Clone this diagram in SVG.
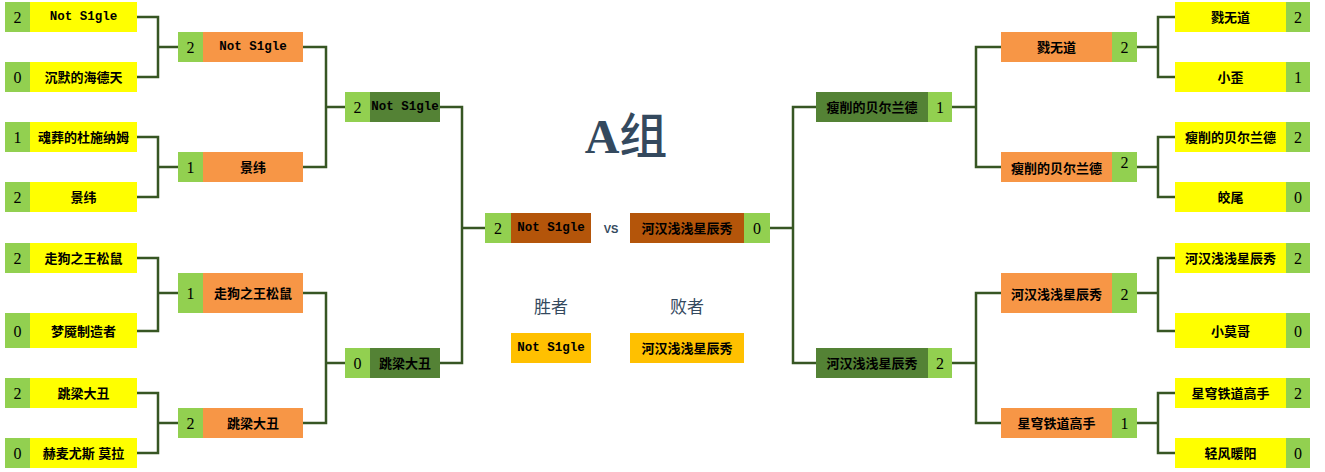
<svg xmlns="http://www.w3.org/2000/svg" width="1325" height="472" viewBox="0 0 1325 472">
<style>
.sc{fill:#92D050}
.y{fill:#FFFF00}
.o{fill:#F79646}
.g{fill:#548235}
.b{fill:#B4550A}
.w{fill:#FFC000}
.n{font-family:"Liberation Sans","Noto Sans CJK SC",sans-serif;font-weight:bold;font-size:13px;text-anchor:middle;dominant-baseline:central;fill:#000}
.m{font-family:"Liberation Mono","Courier New",monospace;font-weight:bold;font-size:12.5px;text-anchor:middle;dominant-baseline:central;fill:#000}
.s{font-family:"Liberation Serif",serif;font-size:16px;text-anchor:middle;dominant-baseline:central;fill:#000}
.t{font-family:"Noto Sans CJK SC",sans-serif;font-size:17px;text-anchor:middle;dominant-baseline:central;fill:#34495E}
#connectors path{fill:none;stroke:#375623;stroke-width:2.5}
</style>
<rect width="1325" height="472" fill="#fff"/>
<g id="connectors">
<path d="M137 17H158V77H137M158 47H178"/>
<path d="M137 137H158V197H137M158 167H178"/>
<path d="M137 258H158V331H137M158 293H178"/>
<path d="M137 393H158V453H137M158 423H178"/>
<path d="M303 47H326V167H303M326 107H345"/>
<path d="M303 293H326V423H303M326 363H345"/>
<path d="M440 107H462V363H440M462 228H485"/>
<path d="M770 228H793M816 107H793V363H816"/>
<path d="M952 107H976M1001 47H976V167H1001"/>
<path d="M952 363H976M1001 293H976V423H1001"/>
<path d="M1137 47H1158M1175 17H1158V77H1175"/>
<path d="M1137 167H1158M1175 137H1158V197H1175"/>
<path d="M1137 293H1158M1175 258H1158V331H1175"/>
<path d="M1137 423H1158M1175 393H1158V453H1175"/>
</g>
<g id="title"><text x="626" y="153" font-family="'Liberation Serif','Noto Sans CJK SC',serif" font-size="48" text-anchor="middle" fill="#34495E"><tspan font-weight="bold">A</tspan><tspan font-weight="500">组</tspan></text></g>
<!-- Left round 1 -->
<g id="L1a"><rect class="sc" x="5" y="2" width="25" height="30"/><rect class="y" x="30" y="2" width="107" height="30"/><text class="s" x="17.5" y="17">2</text><text class="m" x="83.5" y="17">Not S1gle</text></g>
<g id="L1b"><rect class="sc" x="5" y="62" width="25" height="30"/><rect class="y" x="30" y="62" width="107" height="30"/><text class="s" x="17.5" y="77">0</text><text class="n" x="83.5" y="77">沉默的海德天</text></g>
<g id="L1c"><rect class="sc" x="5" y="122" width="25" height="30"/><rect class="y" x="30" y="122" width="107" height="30"/><text class="s" x="17.5" y="137">1</text><text class="n" x="83.5" y="137">魂葬的杜施纳姆</text></g>
<g id="L1d"><rect class="sc" x="5" y="182" width="25" height="30"/><rect class="y" x="30" y="182" width="107" height="30"/><text class="s" x="17.5" y="197">2</text><text class="n" x="83.5" y="197">景纬</text></g>
<g id="L1e"><rect class="sc" x="5" y="243" width="25" height="30"/><rect class="y" x="30" y="243" width="107" height="30"/><text class="s" x="17.5" y="258">2</text><text class="n" x="83.5" y="258">走狗之王松鼠</text></g>
<g id="L1f"><rect class="sc" x="5" y="313" width="25" height="35"/><rect class="y" x="30" y="313" width="107" height="35"/><text class="s" x="17.5" y="331">0</text><text class="n" x="83.5" y="331">梦魇制造者</text></g>
<g id="L1g"><rect class="sc" x="5" y="378" width="25" height="30"/><rect class="y" x="30" y="378" width="107" height="30"/><text class="s" x="17.5" y="393">2</text><text class="n" x="83.5" y="393">跳梁大丑</text></g>
<g id="L1h"><rect class="sc" x="5" y="438" width="25" height="30"/><rect class="y" x="30" y="438" width="107" height="30"/><text class="s" x="17.5" y="453">0</text><text class="n" x="83.5" y="453">赫麦尤斯 莫拉</text></g>
<!-- Left round 2 -->
<g id="L2a"><rect class="sc" x="178" y="32" width="25" height="30"/><rect class="o" x="203" y="32" width="100" height="30"/><text class="s" x="190.5" y="47">2</text><text class="m" x="253" y="47">Not S1gle</text></g>
<g id="L2b"><rect class="sc" x="178" y="152" width="25" height="30"/><rect class="o" x="203" y="152" width="100" height="30"/><text class="s" x="190.5" y="167">1</text><text class="n" x="253" y="167">景纬</text></g>
<g id="L2c"><rect class="sc" x="178" y="273" width="25" height="40"/><rect class="o" x="203" y="273" width="100" height="40"/><text class="s" x="190.5" y="293">1</text><text class="n" x="253" y="293">走狗之王松鼠</text></g>
<g id="L2d"><rect class="sc" x="178" y="408" width="25" height="30"/><rect class="o" x="203" y="408" width="100" height="30"/><text class="s" x="190.5" y="423">2</text><text class="n" x="253" y="423">跳梁大丑</text></g>
<!-- Left round 3 -->
<g id="L3a"><rect class="sc" x="345" y="92" width="25" height="30"/><rect class="g" x="370" y="92" width="70" height="30"/><text class="s" x="357.5" y="107">2</text><text class="m" x="405" y="107">Not S1gle</text></g>
<g id="L3b"><rect class="sc" x="345" y="348" width="25" height="30"/><rect class="g" x="370" y="348" width="70" height="30"/><text class="s" x="357.5" y="363">0</text><text class="n" x="405" y="363">跳梁大丑</text></g>
<!-- Final -->
<g id="FL"><rect class="sc" x="485" y="213" width="26" height="30"/><rect class="b" x="511" y="213" width="80" height="30"/><text class="s" x="498" y="228">2</text><text class="m" x="551" y="228">Not S1gle</text></g>
<g id="vs"><text x="611" y="229" font-family="'Liberation Sans',sans-serif" font-weight="bold" font-size="11" text-anchor="middle" dominant-baseline="central" fill="#34495E">VS</text></g>
<g id="FR"><rect class="b" x="630" y="213" width="114" height="30"/><rect class="sc" x="744" y="213" width="26" height="30"/><text class="n" x="687" y="228">河汉浅浅星辰秀</text><text class="s" x="757" y="228">0</text></g>
<g id="winner"><text class="t" x="551" y="305">胜者</text><rect class="w" x="511" y="333" width="80" height="30"/><text class="m" x="551" y="348">Not S1gle</text></g>
<g id="loser"><text class="t" x="687" y="305">败者</text><rect class="w" x="630" y="333" width="114" height="30"/><text class="n" x="687" y="348">河汉浅浅星辰秀</text></g>
<!-- Right round 3 -->
<g id="R3a"><rect class="g" x="816" y="92" width="112" height="30"/><rect class="sc" x="928" y="92" width="24" height="30"/><text class="n" x="872" y="107">瘦削的贝尔兰德</text><text class="s" x="940" y="107">1</text></g>
<g id="R3b"><rect class="g" x="816" y="348" width="112" height="30"/><rect class="sc" x="928" y="348" width="24" height="30"/><text class="n" x="872" y="363">河汉浅浅星辰秀</text><text class="s" x="940" y="363">2</text></g>
<!-- Right round 2 -->
<g id="R2a"><rect class="o" x="1001" y="32" width="111" height="30"/><rect class="sc" x="1112" y="32" width="25" height="30"/><text class="n" x="1056.5" y="47">戮无道</text><text class="s" x="1124.5" y="47">2</text></g>
<g id="R2b"><rect class="o" x="1001" y="152" width="111" height="30"/><rect class="sc" x="1112" y="152" width="25" height="30"/><text class="n" x="1056.5" y="168">瘦削的贝尔兰德</text><text class="s" x="1124.5" y="162">2</text></g>
<g id="R2c"><rect class="o" x="1001" y="273" width="111" height="40"/><rect class="sc" x="1112" y="273" width="25" height="40"/><text class="n" x="1056.5" y="294">河汉浅浅星辰秀</text><text class="s" x="1124.5" y="294">2</text></g>
<g id="R2d"><rect class="o" x="1001" y="408" width="111" height="30"/><rect class="sc" x="1112" y="408" width="25" height="30"/><text class="n" x="1056.5" y="423">星穹铁道高手</text><text class="s" x="1124.5" y="423">1</text></g>
<!-- Right round 1 -->
<g id="R1a"><rect class="y" x="1175" y="2" width="111" height="30"/><rect class="sc" x="1286" y="2" width="24" height="30"/><text class="n" x="1230.5" y="17">戮无道</text><text class="s" x="1298" y="17">2</text></g>
<g id="R1b"><rect class="y" x="1175" y="62" width="111" height="30"/><rect class="sc" x="1286" y="62" width="24" height="30"/><text class="n" x="1230.5" y="77">小歪</text><text class="s" x="1298" y="77">1</text></g>
<g id="R1c"><rect class="y" x="1175" y="122" width="111" height="30"/><rect class="sc" x="1286" y="122" width="24" height="30"/><text class="n" x="1230.5" y="137">瘦削的贝尔兰德</text><text class="s" x="1298" y="137">2</text></g>
<g id="R1d"><rect class="y" x="1175" y="182" width="111" height="30"/><rect class="sc" x="1286" y="182" width="24" height="30"/><text class="n" x="1230.5" y="197">皎尾</text><text class="s" x="1298" y="197">0</text></g>
<g id="R1e"><rect class="y" x="1175" y="243" width="111" height="30"/><rect class="sc" x="1286" y="243" width="24" height="30"/><text class="n" x="1230.5" y="258">河汉浅浅星辰秀</text><text class="s" x="1298" y="258">2</text></g>
<g id="R1f"><rect class="y" x="1175" y="313" width="111" height="35"/><rect class="sc" x="1286" y="313" width="24" height="35"/><text class="n" x="1230.5" y="331">小莫哥</text><text class="s" x="1298" y="331">0</text></g>
<g id="R1g"><rect class="y" x="1175" y="378" width="111" height="30"/><rect class="sc" x="1286" y="378" width="24" height="30"/><text class="n" x="1230.5" y="393">星穹铁道高手</text><text class="s" x="1298" y="393">2</text></g>
<g id="R1h"><rect class="y" x="1175" y="438" width="111" height="30"/><rect class="sc" x="1286" y="438" width="24" height="30"/><text class="n" x="1230.5" y="453">轻风暖阳</text><text class="s" x="1298" y="453">0</text></g>
</svg>
